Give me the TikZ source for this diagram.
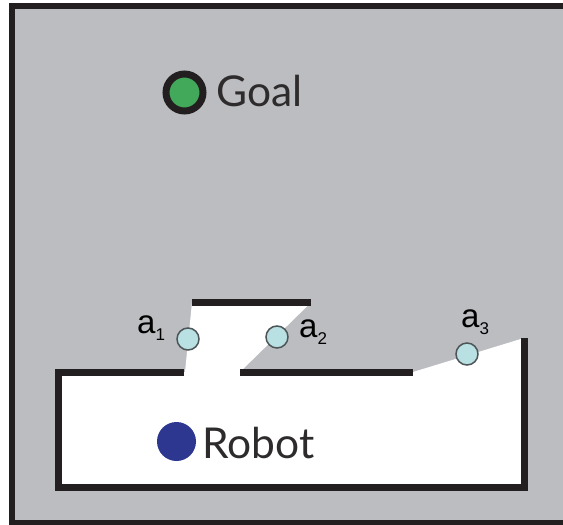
\documentclass[tikz,border=0pt]{standalone}
\usepackage{fontspec}
\setmainfont{Lato}
\newfontfamily\labfont{Liberation Sans}
\definecolor{bggrey}{HTML}{BCBDC1}
\definecolor{wall}{HTML}{231F20}
\definecolor{lcyan}{HTML}{B9E0E2}
\definecolor{cedge}{HTML}{4D5557}
\definecolor{goalgreen}{HTML}{43A95A}
\definecolor{robblue}{HTML}{2E3790}
\definecolor{txtgrey}{HTML}{2E2B2C}
\tikzset{
  wallline/.style={draw=wall, line width=7pt, line cap=butt, line join=miter},
  actpt/.style={circle, inner sep=0pt, minimum size=22pt, fill=lcyan, draw=cedge, line width=1.5pt},
  biglabel/.style={inner sep=0pt, anchor=base west, text=txtgrey, font=\fontsize{42.5}{42.5}\selectfont},
  alabel/.style={inner sep=0pt, anchor=base west, text=black, font=\labfont\fontsize{33}{33}\selectfont}
}
\newcommand{\sublab}[1]{a\raisebox{-7pt}{\fontsize{17}{17}\selectfont #1}}
\begin{document}
\begin{tikzpicture}[x=1pt, y=-1pt]
\useasboundingbox (0,0) rectangle (563,525);
\clip (0,0) rectangle (563,525);
\fill[white] (0,0) rectangle (563,525);
% outer field
\fill[bggrey] (12,6) rectangle (580,523);
\draw[wall, line width=6.5pt] (12,6) rectangle (580,523);
% free space (white)
\fill[white] (58.5,372) -- (185,372) -- (192,302.5) -- (311,302.5) -- (240,372)
  -- (413,372) -- (524,338) -- (524,487) -- (58.5,487) -- cycle;
% walls
\draw[wallline] (184,372) -- (58.5,372) -- (58.5,487) -- (524,487) -- (524,338);
\draw[wallline] (240,372) -- (413,372);
\draw[wallline] (192,302.5) -- (311,302.5);
% goal
\node[circle, inner sep=0pt, minimum size=37pt, fill=goalgreen, draw=wall, line width=7pt] (goal) at (184.5,92.5) {};
\node[biglabel] (goallabel) at (216,106) {Goal};
% robot
\node[circle, inner sep=0pt, minimum size=39pt, fill=robblue] (robot) at (176.5,441.5) {};
\node[biglabel] (robotlabel) at (202,458) {Robot};
% action points
\node[actpt] (a1) at (188,339) {};
\node[actpt] (a2) at (277,337) {};
\node[actpt] (a3) at (467,354) {};
\node[alabel] (l1) at (137,333) {\sublab{1}};
\node[alabel] (l2) at (299,337) {\sublab{2}};
\node[alabel] (l3) at (461,327) {\sublab{3}};
\end{tikzpicture}
\end{document}
